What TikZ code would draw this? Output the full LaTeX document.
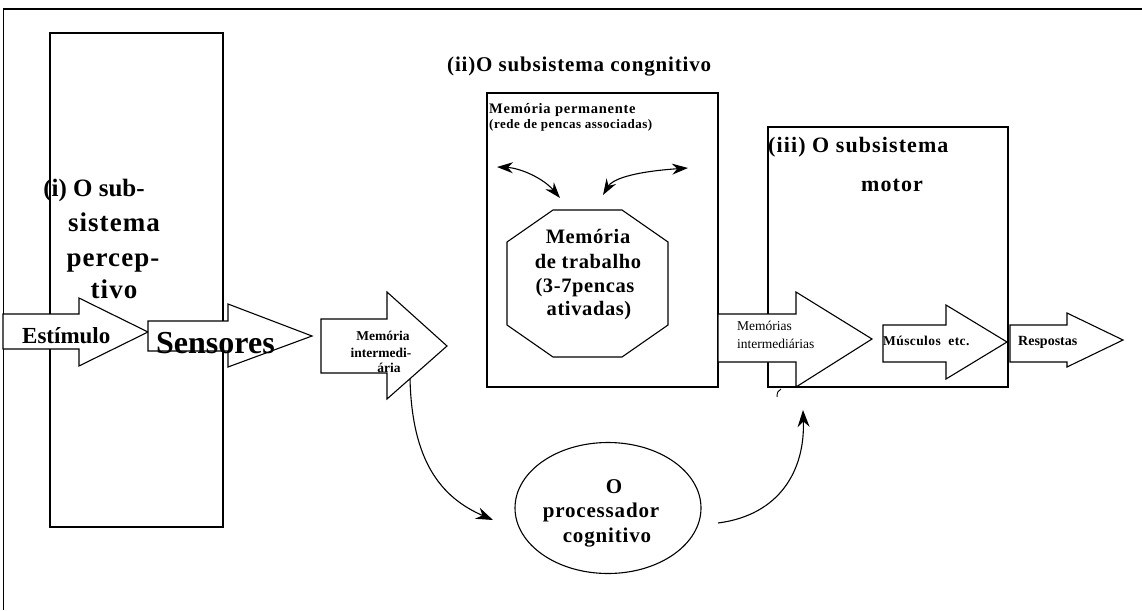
\documentclass[tikz,border=0pt]{standalone}
\usepackage{fontspec}
\setmainfont{Liberation Serif}
\usetikzlibrary{arrows.meta,shapes.geometric}
\newcommand\setfs[2]{\fontsize{#1}{#2}\selectfont}
\newcommand\lspace[1]{\addfontfeature{LetterSpace=#1}}
\tikzset{
  boxline/.style={draw, line width=1.1pt},
  blockarrow/.style={draw, fill=white, line width=1.1pt, line join=miter},
  lbl/.style={inner sep=0pt, font=\bfseries},
  rlbl/.style={inner sep=0pt},
  tip/.style={-{Stealth[length=17pt,width=12pt]}, line width=1.1pt},
  tips/.style={{Stealth[length=16pt,width=11pt]}-{Stealth[length=16pt,width=11pt]}, line width=1.1pt},
}
\begin{document}
\begin{tikzpicture}[x=1pt,y=-1pt]
\useasboundingbox (0,0) rectangle (1142,610);

% outer frame (top and left edges)
\draw[line width=2.2pt] (3,9) -- (1142,9);
\draw[line width=1pt] (3,9) -- (3,610);

% the three subsystem boxes
\draw[boxline] (50,33) rectangle (223,527);
\draw[boxline] (487,93) rectangle (718,387);
\draw[boxline] (768,127) rectangle (1008,387);

% working memory octagon
\draw[boxline] (553,210) -- (622,210) -- (668,242) -- (668,325) -- (622,357)
  -- (553,357) -- (507,325) -- (507,242) -- cycle;

% cognitive processor
\node[ellipse, draw, line width=1.1pt, minimum width=186pt, minimum height=131pt, inner sep=0pt] (proc) at (608,508) {};

% block arrows
\draw[blockarrow] (3,314) -- (79,314) -- (79,298) -- (148,332) -- (79,366) -- (79,349) -- (3,349) -- cycle;
\draw[blockarrow] (148,321) -- (228,321) -- (228,304) -- (312,336) -- (228,367) -- (228,351) -- (148,351) -- cycle;
\draw[blockarrow] (321,319) -- (387,319) -- (387,292) -- (447,346) -- (387,399) -- (387,373) -- (321,373) -- cycle;
\draw[blockarrow] (718,314) -- (796,314) -- (796,292) -- (872,339) -- (796,387) -- (796,362) -- (718,362) -- cycle;
\draw[blockarrow] (883,325) -- (946,325) -- (946,305) -- (1007,342) -- (946,379) -- (946,362) -- (883,362) -- cycle;
\draw[blockarrow] (1010,325) -- (1067,325) -- (1067,313) -- (1123,340) -- (1067,367) -- (1067,362) -- (1010,362) -- cycle;

% curved connectors
\coordinate (mi-out) at (410,379);
\coordinate (proc-in) at (493,520);
\coordinate (proc-out) at (718,523);
\coordinate (motor-in) at (803,410);
\draw[tip] (mi-out) .. controls (412,460) and (440,497) .. (proc-in);
\draw[tip] (proc-out) .. controls (780,515) and (805,470) .. (motor-in);

% exchanges with permanent memory
\coordinate (pm-l) at (497,167);
\coordinate (wm-l) at (560,198);
\coordinate (wm-r) at (603,195);
\coordinate (pm-r) at (688,168);
\draw[tips] (pm-l) .. controls (520,168) and (543,178) .. (wm-l);
\draw[tips] (wm-r) .. controls (612,180) and (630,172) .. (pm-r);

% small stroke under the motor box
\coordinate (tick-a) at (781,389);
\coordinate (tick-b) at (777,397);
\draw[line width=0.9pt] (tick-a) .. controls (778,390) and (777,393) .. (tick-b);

% titles
\node[lbl, anchor=base west] (t-cog) at (447,71) {\setfs{21}{24}\lspace{4}(ii)O subsistema congnitivo};
\node[lbl, anchor=base] (p1) at (94,196) {\setfs{25}{30}(i) O sub-};
\node[lbl, anchor=base] (p2) at (114,231) {\setfs{27}{32}\lspace{4}sistema};
\node[lbl, anchor=base] (p3) at (113,266) {\setfs{27}{32}\lspace{4}percep-};
\node[lbl, anchor=base] (p4) at (114,298) {\setfs{27}{32}\lspace{4}tivo};
\node[lbl, anchor=base west] (m1) at (768,152) {\setfs{22}{26}\lspace{5}(iii) O subsistema};
\node[lbl, anchor=base] (m2) at (892,191) {\setfs{22}{26}\lspace{5}motor};
\node[lbl, anchor=base west] (pm1) at (489,113) {\setfs{14.5}{17}\lspace{5}Memória permanente};
\node[lbl, anchor=base west] (pm2) at (489,128) {\setfs{13}{15}\lspace{4}(rede de pencas associadas)};

% arrow labels
\node[lbl, anchor=base west] (est) at (22,343) {\setfs{23}{26}Estímulo};
\node[lbl, anchor=base west] (sens) at (156,353) {\setfs{32}{36}Sensores};
\node[lbl, anchor=base] (mi1) at (383,340) {\setfs{13.5}{16}Memória};
\node[lbl, anchor=base] (mi2) at (381,357) {\setfs{13.5}{16}intermedi-};
\node[lbl, anchor=base] (mi3) at (389,372) {\setfs{13.5}{16}ária};
\node[rlbl, anchor=base west] (ms1) at (737,330) {\setfs{13.5}{16}Memórias};
\node[rlbl, anchor=base west] (ms2) at (737,348) {\setfs{13.5}{16}intermediárias};
\node[lbl, anchor=base west] (mus) at (883,345) {\setfs{13.5}{16}\lspace{3}Músculos\ \ etc.};
\node[lbl, anchor=base west] (resp) at (1018,345) {\setfs{14}{16}Respostas};

% working memory text
\node[lbl, anchor=base] (w1) at (588,243) {\setfs{20.5}{24}\lspace{3}Memória};
\node[lbl, anchor=base] (w2) at (588,268) {\setfs{20.5}{24}\lspace{3}de trabalho};
\node[lbl, anchor=base] (w3) at (585,292) {\setfs{20.5}{24}\lspace{3}(3-7pencas};
\node[lbl, anchor=base] (w4) at (589,315) {\setfs{20.5}{24}\lspace{3}ativadas)};

% processor text
\node[lbl, anchor=base] (c1) at (614,493) {\setfs{21}{24}\lspace{4}O};
\node[lbl, anchor=base] (c2) at (601,517) {\setfs{21}{24}\lspace{4}processador};
\node[lbl, anchor=base] (c3) at (607,542) {\setfs{21}{24}\lspace{4}cognitivo};
\end{tikzpicture}
\end{document}
